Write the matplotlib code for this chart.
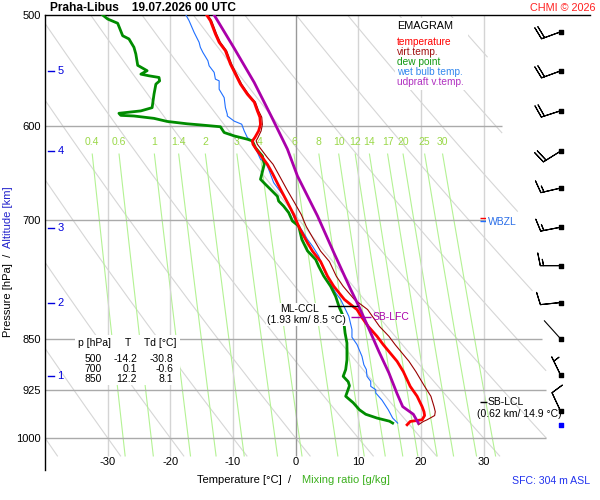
import numpy as np
import matplotlib.pyplot as plt
from matplotlib.patches import Rectangle
from matplotlib.ticker import NullLocator

plt.rcParams['font.family'] = ['Liberation Sans', 'DejaVu Sans']

# sounding: pressure [hPa], temperatures [degC]
temp_p = [500, 504.7, 515.8, 522.9, 530.2, 541.9, 550.9, 560.0, 569.3, 576.8, 585.1, 591.2,
          598.2, 604.6, 611.2, 614.6, 618.0, 624.8, 631.6, 638.6, 648.1, 665.4, 679.7, 693.3,
          707.1, 722.3, 736.3, 749, 767.2, 780, 797.1, 810.3, 821, 833, 846.6, 858.3, 870.1,
          882, 897, 919, 934, 950, 958, 964, 970.7, 973.4, 978.7]
temp_t = [-14.2, -13.6, -12.8, -12.2, -11.2, -10.4, -9.6, -8.8, -7.7, -6.6, -6.1, -5.7,
          -5.6, -5.9, -6.5, -6.9, -6.8, -6.1, -5.3, -4.5, -3.7, -2.4, -1.3, -0.3,
          0.5, 1.6, 2.7, 4.0, 5.1, 6.1, 7.8, 9.8, 10.6, 11.6, 13.0, 14.0, 15.1,
          16.2, 17.2, 18.3, 19.4, 20.2, 20.5, 20.6, 20.2, 18.3, 17.8]
virt_t = [-14.0, -13.4, -12.6, -12.0, -11.0, -10.2, -9.4, -8.6, -7.5, -6.4, -5.9, -5.4,
          -5.3, -5.5, -6.0, -6.3, -6.1, -5.3, -4.5, -3.6, -2.8, -1.4, -0.2, 0.9,
          1.7, 2.9, 4.0, 5.4, 6.5, 7.6, 9.4, 11.5, 12.4, 13.4, 14.9, 15.9, 17.0,
          18.1, 19.2, 20.6, 21.6, 22.1, 22.3, 22.2, 21.0, 20.4, 19.6]

dew_p = [500, 503.3, 506.8, 517.3, 520, 527.2, 533, 543, 547.8, 550.9, 552.4, 553.9, 557,
         560, 569.3, 582, 585.1, 587.4, 589.4, 590, 592.3, 595.3, 597.6, 598.7, 600.5,
         606.2, 609.6, 612.9, 614.6, 621.6, 630, 638.6, 654.5, 660, 665.4, 673, 678.3,
         684, 691.3, 700.9, 706.7, 722.3, 736, 746.4, 755, 767, 780, 793, 808, 819, 842,
         856, 880, 894, 904, 912, 918, 926, 934, 944, 955, 962, 968, 973, 976]
dew_t = [-30.8, -30.0, -28.4, -27.6, -26.6, -25.8, -25.5, -25.2, -23.7, -24.7, -23.4, -21.8,
         -21.7, -22.3, -22.6, -22.9, -24.7, -28.2, -27.9, -25.8, -22.6, -20.5, -17.3, -15.2,
         -12.0, -11.4, -9.8, -7.7, -6.9, -6.4, -5.3, -5.0, -5.6, -4.8, -4.0, -2.9, -2.7,
         -1.9, -1.1, -0.5, 0.5, 1.0, 1.9, 3.2, 3.7, 4.5, 5.6, 6.4, 7.0, 7.6, 7.9,
         8.2, 8.2, 8.0, 7.6, 8.4, 8.6, 8.3, 8.0, 9.2, 10.2, 11.2, 13.0, 15.0, 15.5]

wet_p = [500, 504.7, 514.4, 522.9, 527.2, 531.6, 538.9, 543.4, 549.3, 555.4, 557, 564.7,
         572.5, 582, 588.4, 590, 595, 598, 604.6, 611.2, 614.9, 633.4, 636.8, 643.8, 658.1,
         665.4, 672.7, 687.6, 700.9, 712.5, 722.3, 730.3, 742.4, 758.8, 771.3, 788.4,
         797.1, 819.3, 837.3, 847.9, 858, 874.9, 887, 894, 904, 911.6, 919, 924, 929,
         940, 955, 968, 976]
wet_t = [-17.5, -17.0, -16.2, -15.4, -15.2, -14.8, -14.0, -13.8, -13.0, -12.8, -12.2, -12.2,
         -11.4, -11.2, -10.9, -10.9, -9.8, -8.6, -8.2, -7.7, -6.9, -5.6, -4.8, -4.3, -3.5,
         -2.7, -1.9, -0.8, 0.0, 1.1, 1.9, 2.7, 3.7, 4.5, 5.3, 6.4,
         7.2, 8.5, 9.0, 9.0, 9.8, 10.6, 10.9, 11.3, 11.4, 12.0, 12.0, 12.8, 12.8,
         13.8, 14.8, 15.5, 16.3]

upd_p = [500, 528, 558.5, 590, 623, 651, 695, 738, 784, 806, 840, 868, 899, 930, 950, 962, 976]
upd_t = [-13.0, -9.8, -6.6, -3.9, -1.3, 0.3, 3.5, 6.1, 8.8, 10.1, 11.9, 13.3, 14.9, 16.2,
         17.1, 18.8, 19.6]

# wind every 0.5 km, 5.5 km down to 0.5 km
wind_p = [514, 548, 585, 625, 664, 708, 754, 801, 850, 902, 957]
wind_dir = [250, 250, 252, 238, 257, 259, 270, 264, 318, 334, 335]
wind_spd = [20, 20, 20, 20, 15, 15, 15, 10, 2, 5, 10]
sfc_p = 979

alt_km = [1, 2, 3, 4, 5]
alt_p = [903, 802, 709, 625, 548]

table_p = [500, 700, 850]
table_t = [-14.2, 0.1, 12.2]
table_td = [-30.8, -0.6, 8.1]

p_levels = [500, 600, 700, 850, 925, 1000]
iso_t = [-30, -20, -10, 0, 10, 20, 30]
theta = [-40, -30, -20, -10, 0, 10, 20, 30, 40, 50, 60, 70, 80, 90]
mix_w = [0.4, 0.6, 1, 1.4, 2, 3, 4, 6, 8, 10, 12, 14, 17, 20, 25, 30]


def fx(px):
    return px / 600.0


def fy(py):
    return 1 - py / 500.0


def t_right(p):
    # right edge of the grid, slanting in towards the top
    f = np.log(np.asarray(p, dtype=float) / 500.0) / np.log(880 / 500.0)
    return np.minimum(29.5 + 10.5 * f, 40.0)


def dewpoint(w, p):
    e = w * p / (622.0 + w)
    a = np.log(e / 6.112)
    return 243.5 * a / (17.67 - a)


fig = plt.figure(figsize=(6, 5), dpi=100)
ax = fig.add_axes([fx(45), 30 / 500, 545 / 600, 455 / 500])
ax.set_yscale('log')
ax.set_ylim(1054, 500)
ax.set_xlim(-40, 47)

# background grid
pp = np.linspace(500, 1030, 300)
for th in theta:
    t = (th + 273.15) * (pp / 1000.0) ** 0.286 - 273.15
    t = np.where((t <= t_right(pp)) & (t >= -40), t, np.nan)
    ax.plot(t, pp, color='#d6d6d6', lw=0.8, zorder=1)

pm = np.linspace(628, 1030, 60)
for w in mix_w:
    ax.plot(dewpoint(w, pm), pm, color='#b4f294', lw=0.8, zorder=1)
    ax.text(dewpoint(w, 628), 615.5, f'{w:g}', color='#9ad848', fontsize=7.5,
            ha='center', va='center')

for t in iso_t:
    ax.vlines(t, 500, 1030, color='#999999' if t == 0 else '#d4d4d4', lw=1, zorder=1)
    ax.text(t, 1040, str(t), ha='center', va='center', fontsize=8)

for p in p_levels[1:]:
    right = 31 if p == 700 else float(t_right(p))
    ax.hlines(p, -40, right, color='#aaaaaa', lw=1, zorder=2)

# profiles
ax.plot(virt_t, temp_p, color='#990000', lw=0.8, zorder=3)
ax.plot(wet_t, wet_p, color='#1f6fff', lw=0.8, zorder=3)
ax.plot(dew_t, dew_p, color='#008c00', lw=2.0, zorder=4)
ax.plot(temp_t, temp_p, color='#ff0000', lw=2.0, zorder=5)
ax.plot(upd_t, upd_p, color='#aa00aa', lw=2.0, zorder=6)

# levels
ax.hlines(806, 5.1, 9.9, color='black', lw=1, zorder=7)
ax.text(0.7, 809, 'ML-CCL', fontsize=7.5, ha='center', va='center', zorder=7,
        bbox=dict(facecolor='white', edgecolor='none', pad=0.5))
ax.text(1.75, 824, '(1.93 km/ 8.5 °C)', fontsize=7.5, ha='center', va='center', zorder=7,
        bbox=dict(facecolor='white', edgecolor='none', pad=0.5))
ax.hlines(820, 8.8, 12.0, color='#aa00aa', lw=1, zorder=7)
ax.text(12.3, 820, 'SB-LFC', color='#aa00aa', fontsize=7.5, va='center', zorder=7)
ax.hlines(942.6, 29.5, 30.5, color='black', lw=1, zorder=7)
ax.text(30.6, 943, 'SB-LCL', fontsize=7.5, va='center', zorder=7)
ax.text(29.0, 961, '(0.62 km/ 14.9 °C)', fontsize=7.5, va='center', zorder=7)
ax.hlines(697.8, 29.5, 30.5, color='red', lw=1, zorder=7)
ax.hlines(701.2, 29.5, 30.5, color='#1f6fff', lw=1, zorder=7)
ax.text(30.7, 701.5, 'WBZL', color='#2a6ee8', fontsize=7.5, va='center', zorder=7,
        bbox=dict(facecolor='white', edgecolor='none', pad=1.5))

# wind barbs
bx = np.full(len(wind_p), 42.3)
wp = np.array(wind_p, dtype=float)
ws = np.array(wind_spd, dtype=float)
wd = np.radians(wind_dir)
u = -ws * np.sin(wd)
v = -ws * np.cos(wd)
strong = ws >= 5
ax.barbs(bx[strong], wp[strong], u[strong], v[strong], length=5.4, pivot='tip',
         lw=0.8, color='black', zorder=8,
         sizes=dict(spacing=0.16, height=0.62, width=0.25))
for i in np.where(~strong)[0]:
    ax.annotate('', xy=(bx[i], wp[i]),
                xytext=(17.5 * np.sin(wd[i]), 17.5 * np.cos(wd[i])),
                textcoords='offset points',
                arrowprops=dict(arrowstyle='-', lw=0.8, color='black',
                                shrinkA=0, shrinkB=0), zorder=8)
ax.scatter(bx, wp, marker='s', s=5, color='black', zorder=9)
ax.scatter([42.3], [sfc_p], marker='s', s=6, color='#0000ff', zorder=9)

# altitude scale
ytr = ax.get_yaxis_transform()
for km, p in zip(alt_km, alt_p):
    ax.plot([0.006, 0.017], [p, p], color='#0000dd', lw=1, transform=ytr)
    ax.text(0.023, p, str(km), color='#0000dd', fontsize=8, va='center', transform=ytr)

ax.set_yticks(p_levels)
ax.set_yticklabels([str(p) for p in p_levels])
ax.yaxis.set_minor_locator(NullLocator())
ax.set_xticks([])
ax.tick_params(axis='y', length=0, pad=3, labelsize=8)
ax.spines['right'].set_visible(False)
ax.spines['bottom'].set_visible(False)
ax.spines['left'].set_linewidth(1)
ax.spines['top'].set_linewidth(1)

# legend box
fig.add_artist(Rectangle((fx(395), fy(90)), 73 / 600, 72 / 500, transform=fig.transFigure,
                         facecolor='white', edgecolor='none', zorder=2))
fig.text(fx(397), fy(26), 'EMAGRAM', fontsize=7.8, va='center', zorder=3)
legend_labels = ['temperature', 'virt.temp.', 'dew point', 'wet bulb temp.', 'udpraft v.temp.']
legend_colors = ['#ff0000', '#a01010', '#119911', '#3388ee', '#b030c0']
for k, (lab, col) in enumerate(zip(legend_labels, legend_colors)):
    fig.text(fx(397), fy(42 + 10 * k), lab, color=col, fontsize=7.3, va='center', zorder=3)

# table box
fig.add_artist(Rectangle((fx(75), fy(385)), 105 / 600, 50 / 500, transform=fig.transFigure,
                         facecolor='white', edgecolor='none', zorder=2))
fig.text(fx(78), fy(343), 'p [hPa]', fontsize=7.5, va='center', zorder=3)
fig.text(fx(128), fy(343), 'T', fontsize=7.5, ha='center', va='center', zorder=3)
fig.text(fx(144), fy(343), 'Td [°C]', fontsize=7.5, va='center', zorder=3)
for k in range(len(table_p)):
    yy = fy(358.7 + 10 * k)
    fig.text(fx(102), yy, str(table_p[k]), fontsize=7.5, ha='right', va='center', zorder=3)
    fig.text(fx(137), yy, f'{table_t[k]:.1f}', fontsize=7.5, ha='right', va='center', zorder=3)
    fig.text(fx(173.5), yy, f'{table_td[k]:.1f}', fontsize=7.5, ha='right', va='center', zorder=3)

# titles and axis labels
fig.text(fx(50), fy(8), 'Praha-Libus    19.07.2026 00 UTC', fontsize=8.6,
         fontweight='bold', va='center')
fig.text(fx(596), fy(8), 'CHMI © 2026', color='#ff2020', fontsize=7.8, ha='right', va='center')
fig.text(fx(8), fy(337), 'Pressure [hPa]  /', rotation=90, ha='center', va='bottom', fontsize=8)
fig.text(fx(8), fy(248), 'Altitude [km]', rotation=90, ha='center', va='bottom', fontsize=8,
         color='#2222cc')
fig.text(fx(197), fy(480), 'Temperature [°C]  /', fontsize=8, va='center')
fig.text(fx(302), fy(480), 'Mixing ratio [g/kg]', fontsize=8, va='center', color='#3cb01e')
fig.text(fx(590), fy(481), 'SFC: 304 m ASL', fontsize=7.6, ha='right', va='center',
         color='#2233ee')

fig.savefig('out.png', dpi=100, facecolor='white')
